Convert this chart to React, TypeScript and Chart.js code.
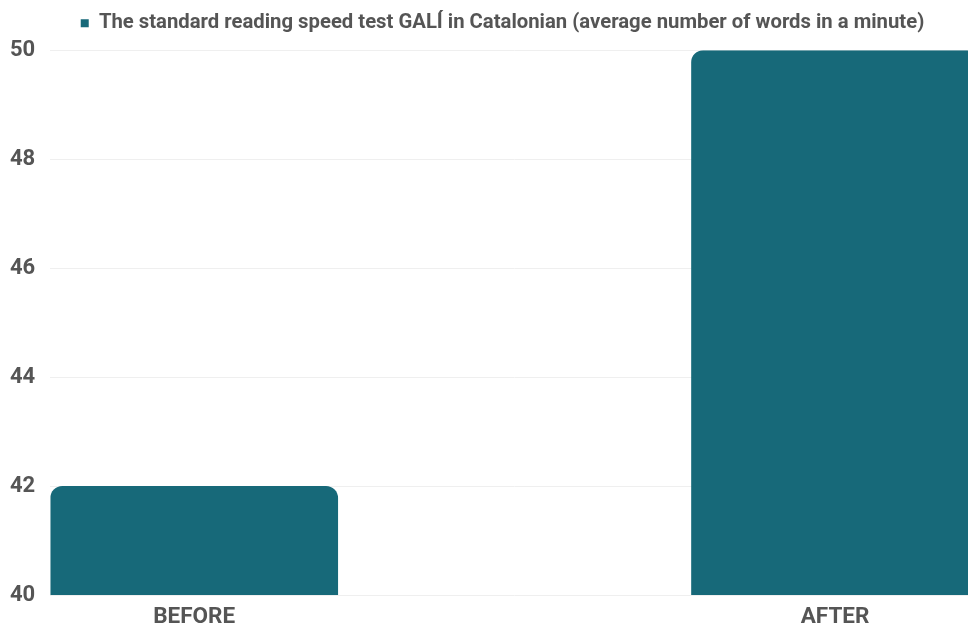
import React, { useEffect, useRef } from "react";
import { Chart, registerables } from "chart.js";

Chart.register(...registerables);

const categories: string[] = ["BEFORE", "AFTER"];
const values: number[] = [42, 50];
const seriesLabel =
  "The standard reading speed test GALÍ in Catalonian (average number of words in a minute)";
const yTicks: number[] = [40, 42, 44, 46, 48, 50];

const BAR_COLOR = "#176979";
const TEXT_COLOR = "#555555";
const FAMILY = "Roboto";

const legendTweak = {
  id: "legendTweak",
  afterInit(chart: any) {
    const legend: any = chart.legend;
    if (!legend) return;
    const origFit = legend.fit;
    legend.fit = function () {
      origFit.call(this);
      this.height += 7;
    };
  },
  afterLayout(chart: any) {
    const legend: any = chart.legend;
    if (!legend) return;
    legend.left += 15.5;
    legend.right += 15.5;
  },
};

export default function App() {
  const ref = useRef<HTMLCanvasElement | null>(null);

  useEffect(() => {
    if (!ref.current) return;
    const chart = new Chart(ref.current, {
      type: "bar",
      data: {
        datasets: [
          {
            label: seriesLabel,
            data: categories.map((c, i) => ({ x: i, y: values[i] })),
            backgroundColor: BAR_COLOR,
            borderRadius: 12,
            borderSkipped: "start",
            categoryPercentage: 1,
            barPercentage: 0.449,
          },
        ],
      },
      options: {
        animation: false,
        responsive: true,
        maintainAspectRatio: false,
        layout: { padding: { left: 2, right: 16, top: 2, bottom: 0 } },
        plugins: {
          legend: {
            display: true,
            position: "top",
            labels: {
              boxWidth: 8,
              boxHeight: 8,
              padding: 3,
              color: TEXT_COLOR,
              font: { family: FAMILY, size: 20.3, weight: "bold" },
            },
          },
          tooltip: { enabled: false },
        },
        scales: {
          x: {
            type: "linear",
            offset: false,
            min: -0.2246,
            max: 1.2246,
            grid: { display: false },
            border: { display: false },
            afterBuildTicks: (scale: any) => {
              scale.ticks = categories.map((_, i) => ({ value: i }));
            },
            afterFit: (scale: any) => {
              scale.paddingLeft = 0;
              scale.paddingRight = 0;
            },
            ticks: {
              color: TEXT_COLOR,
              font: { family: FAMILY, size: 22.5, weight: "bold" },
              padding: 1,
              maxRotation: 0,
              callback: (v: any) => categories[Number(v)] ?? "",
            },
          },
          y: {
            min: yTicks[0],
            max: yTicks[yTicks.length - 1],
            grid: { color: "#efefef", drawTicks: false },
            border: { display: false },
            afterBuildTicks: (scale: any) => {
              scale.ticks = yTicks.map((v) => ({ value: v }));
            },
            ticks: {
              color: TEXT_COLOR,
              font: { family: FAMILY, size: 22, weight: "bold" },
              padding: 15,
            },
          },
        },
      },
      plugins: [legendTweak],
    });
    return () => chart.destroy();
  }, []);

  return (
    <div
      style={{
        position: "fixed",
        left: 8,
        top: 8,
        width: 960,
        height: 618,
        overflow: "hidden",
      }}
    >
      <div style={{ position: "relative", marginLeft: -15, width: 1002, height: 624 }}>
        <canvas ref={ref} />
      </div>
    </div>
  );
}
